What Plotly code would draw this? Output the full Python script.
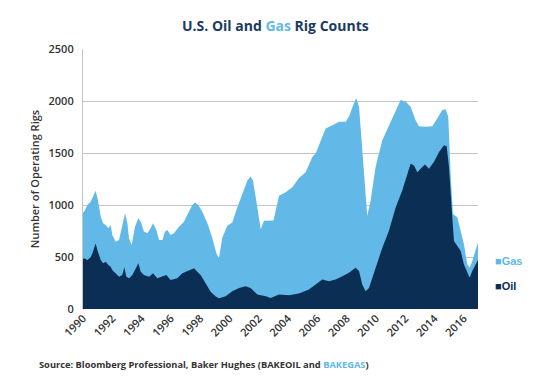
import plotly.graph_objects as go

# Total rig count (oil + gas)
total_years = [1990.0, 1990.07, 1990.3, 1990.52, 1990.68, 1990.86, 1991.02, 1991.21, 1991.37, 1991.55,
               1991.73, 1991.89, 1992.0, 1992.23, 1992.46, 1992.68, 1992.87, 1993.03, 1993.14, 1993.32,
               1993.55, 1993.78, 1993.94, 1994.16, 1994.39, 1994.62, 1994.78, 1995.01, 1995.19, 1995.42,
               1995.6, 1995.76, 1995.98, 1996.21, 1996.55, 1996.89, 1997.24, 1997.46, 1997.65, 1997.87,
               1998.14, 1998.49, 1998.83, 1999.1, 1999.28, 1999.51, 1999.85, 2000.19, 2000.53, 2000.88,
               2001.22, 2001.44, 2001.6, 2001.9, 2002.13, 2002.35, 2002.8, 2003.0, 2003.38, 2003.83,
               2004.29, 2004.74, 2005.2, 2005.65, 2005.88, 2006.33, 2006.56, 2007.02, 2007.47, 2007.93,
               2008.15, 2008.49, 2008.65, 2008.84, 2009.06, 2009.25, 2009.4, 2009.63, 2009.97, 2010.43,
               2010.88, 2011.34, 2011.68, 2012.02, 2012.36, 2012.7, 2012.93, 2013.39, 2013.84, 2014.18,
               2014.52, 2014.75, 2014.93, 2015.09, 2015.25, 2015.55, 2015.78, 2016.0, 2016.23, 2016.39,
               2016.57, 2016.8, 2016.96]
total_rigs = [929, 935, 1000, 1032, 1080, 1138, 1048, 888, 824, 808,
              776, 808, 712, 647, 663, 792, 920, 824, 680, 615,
              792, 872, 840, 744, 728, 776, 824, 760, 663, 663,
              744, 760, 712, 728, 792, 840, 935, 1000, 1024, 1000,
              935, 824, 680, 535, 490, 687, 800, 832, 977, 1107,
              1236, 1274, 1236, 977, 768, 848, 848, 850, 1090, 1123,
              1171, 1260, 1316, 1461, 1494, 1655, 1736, 1768, 1800, 1800,
              1848, 1978, 2026, 1945, 1526, 1107, 897, 1042, 1365, 1623,
              1768, 1913, 2010, 1994, 1945, 1816, 1758, 1752, 1758, 1832,
              1913, 1920, 1848, 1300, 913, 881, 752, 623, 429, 397,
              461, 558, 639]

# Oil rig count
oil_years = [1990.0, 1990.07, 1990.3, 1990.52, 1990.68, 1990.86, 1991.02, 1991.21, 1991.37, 1991.55,
             1991.73, 1991.89, 1992.0, 1992.23, 1992.46, 1992.68, 1992.82, 1992.96, 1993.14, 1993.37,
             1993.6, 1993.78, 1993.94, 1994.16, 1994.51, 1994.78, 1995.07, 1995.42, 1995.69, 1995.98,
             1996.44, 1996.78, 1997.01, 1997.35, 1997.58, 1997.8, 1998.03, 1998.37, 1998.71, 1999.06,
             1999.28, 1999.74, 2000.19, 2000.65, 2001.1, 2001.44, 2001.9, 2002.47, 2002.81, 2003.38,
             2004.06, 2004.74, 2005.42, 2005.88, 2006.33, 2006.79, 2007.24, 2007.7, 2008.15, 2008.61,
             2008.84, 2009.06, 2009.29, 2009.52, 2009.97, 2010.43, 2010.88, 2011.34, 2011.79, 2012.13,
             2012.36, 2012.59, 2012.82, 2013.04, 2013.34, 2013.61, 2013.95, 2014.3, 2014.64, 2014.82,
             2014.98, 2015.16, 2015.32, 2015.55, 2015.78, 2016.0, 2016.23, 2016.39, 2016.57, 2016.8,
             2016.96]
oil_rigs = [480, 487, 471, 497, 551, 631, 551, 471, 439, 455,
            423, 407, 375, 343, 311, 327, 401, 311, 295, 327,
            391, 439, 359, 327, 311, 343, 295, 311, 327, 279,
            295, 343, 359, 375, 391, 359, 327, 247, 167, 119,
            103, 123, 171, 203, 219, 203, 139, 123, 106, 139,
            132, 150, 187, 235, 284, 268, 284, 316, 348, 397,
            365, 235, 171, 203, 397, 590, 752, 977, 1139, 1300,
            1397, 1381, 1316, 1349, 1390, 1349, 1413, 1510, 1574, 1565,
            1365, 977, 655, 606, 558, 429, 348, 300, 365, 429,
            470]

tick_years = list(range(1990, 2017, 2))
tick_labels = [str(y) for y in tick_years]
y_ticks = [0, 500, 1000, 1500, 2000, 2500]

GAS_COLOR = "#62B8E6"
OIL_COLOR = "#0B2E55"
TEXT_COLOR = "#333333"
FONT = "Open Sans"

# The page body has an 8px margin, so the figure is drawn 8px in from the top-left.
OFF = 8
W, H = 550 - OFF, 381 - OFF
# target plot area in window pixels
PL, PR, PT, PB = 83, 478, 49, 309


def px(x):
    return (x - PL) / (PR - PL)


def py(y):
    return (PB - y) / (PB - PT)


fig = go.Figure()
fig.add_trace(go.Scatter(x=total_years, y=total_rigs, name="Gas", mode="lines",
                         line=dict(width=0, color=GAS_COLOR), fill="tozeroy",
                         fillcolor=GAS_COLOR, hoverinfo="skip"))
fig.add_trace(go.Scatter(x=oil_years, y=oil_rigs, name="Oil", mode="lines",
                         line=dict(width=0, color=OIL_COLOR), fill="tozeroy",
                         fillcolor=OIL_COLOR, hoverinfo="skip"))

fig.update_layout(
    width=W, height=H,
    margin=dict(l=PL - OFF, r=550 - PR, t=PT - OFF, b=381 - PB, autoexpand=False),
    paper_bgcolor="white", plot_bgcolor="white",
    showlegend=False,
    font=dict(family=FONT, color=TEXT_COLOR),
)
fig.update_xaxes(range=[1990, 2016.96], tickmode="array", tickvals=tick_years, ticktext=tick_labels,
                 tickangle=-45, showgrid=False, zeroline=False, showline=False, ticks="",
                 tickfont=dict(size=11, family=FONT, color=TEXT_COLOR, weight=600))
fig.update_yaxes(range=[0, 2500], tickmode="array", tickvals=y_ticks, showgrid=True,
                 gridcolor="#C4C4C4", gridwidth=1.2, zeroline=False, showline=True,
                 linecolor="#C4C4C4", linewidth=1.2, ticks="", ticklabelstandoff=6,
                 tickfont=dict(size=11, family=FONT, color=TEXT_COLOR, weight=600),
                 title=dict(text="Number of Operating Rigs", standoff=6,
                            font=dict(size=11, family=FONT, color=TEXT_COLOR, weight=600)))

fig.add_annotation(xref="paper", yref="paper", x=px(275), y=py(25),
                   text=f"<b>U.S. Oil and <span style='color:{GAS_COLOR}'>Gas</span> Rig Counts</b>",
                   showarrow=False, xanchor="center", yanchor="middle",
                   font=dict(size=14, family=FONT, color="#1A3A63"))
fig.add_annotation(xref="paper", yref="paper", x=px(37), y=py(364),
                   text=f"<b>Source: Bloomberg Professional, Baker Hughes (BAKEOIL and "
                        f"<span style='color:{GAS_COLOR}'>BAKEGAS</span>)</b>",
                   showarrow=False, xanchor="left", yanchor="middle",
                   font=dict(size=9.3, family=FONT, color=TEXT_COLOR))
fig.add_annotation(xref="paper", yref="paper", x=px(493), y=py(261),
                   text="<b>■Gas</b>", showarrow=False, xanchor="left", yanchor="middle",
                   font=dict(size=11, family="Liberation Sans", color=GAS_COLOR))
fig.add_annotation(xref="paper", yref="paper", x=px(493), y=py(286),
                   text="<b>■Oil</b>", showarrow=False, xanchor="left", yanchor="middle",
                   font=dict(size=11, family="Liberation Sans", color=OIL_COLOR))

fig.write_html("out.html")
